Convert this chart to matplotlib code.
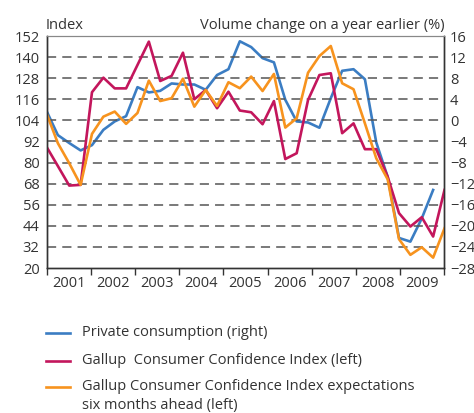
import numpy as np
import matplotlib
matplotlib.use('Agg')
import matplotlib.pyplot as plt
from matplotlib.lines import Line2D

# quarterly data 2001Q1 - 2009Q4
years = ['2001', '2002', '2003', '2004', '2005', '2006', '2007', '2008', '2009']

# private consumption, volume change on a year earlier (%), right axis
private_consumption = [1.8, -2.8, -4.3, -5.7, -4.7, -1.8, -0.2, 0.8,
                       6.3, 5.3, 5.6, 7.0, 6.8, 6.8, 5.8, 8.6,
                       9.7, 15.0, 13.9, 11.8, 11.0, 3.9, -0.2, -0.4,
                       -1.4, 4.2, 9.4, 9.7, 7.8, -4.2, -10.7, -22.3,
                       -23.0, -18.6, -13.2]

# Gallup consumer confidence index, left axis
gallup_cci = [89.0, 78.0, 66.9, 67.3, 120.0, 128.3, 122.2, 122.2,
              135.5, 148.8, 126.4, 129.3, 142.5, 116.0, 121.3, 110.9,
              120.3, 109.6, 108.6, 101.8, 115.0, 82.0, 85.3, 115.6,
              129.8, 130.8, 96.7, 102.3, 87.6, 87.6, 72.0, 51.2,
              43.6, 48.9, 37.9, 64.4]

# Gallup expectations six months ahead, left axis
gallup_expect = [108.0, 91.0, 79.6, 67.3, 96.3, 106.1, 109.0, 102.0,
                 108.2, 126.6, 115.0, 116.6, 127.7, 111.8, 121.3, 112.2,
                 125.7, 122.3, 128.9, 120.7, 130.4, 99.9, 105.2, 131.1,
                 140.6, 146.3, 125.1, 121.7, 102.3, 82.4, 70.5, 36.4,
                 27.5, 31.8, 25.9, 42.6]

labels = ['Private consumption (right)',
          'Gallup  Consumer Confidence Index (left)',
          'Gallup Consumer Confidence Index expectations\nsix months ahead (left)']

left_ticks = list(range(20, 153, 12))
right_ticks = list(range(-28, 17, 4))

blue = '#3b7dc3'
red = '#c3165c'
orange = '#f7931e'
txt = '#333333'

plt.rcParams['font.family'] = ['Open Sans', 'DejaVu Sans']
plt.rcParams['font.size'] = 10.5

W, H = 474, 413
fig = plt.figure(figsize=(W / 100, H / 100), dpi=100)
ax = fig.add_axes([46.5 / W, 1 - 268 / H, 398 / W, 232 / H])
ax2 = ax.twinx()
ax.set_zorder(ax2.get_zorder() + 1)
ax.patch.set_visible(False)

n_q = len(gallup_cci)
x = np.arange(n_q)
x_pc = np.arange(len(private_consumption))

l1, = ax2.plot(x_pc, private_consumption, color=blue, lw=1.9)
l2, = ax.plot(x, gallup_cci, color=red, lw=1.9)
l3, = ax.plot(x, gallup_expect, color=orange, lw=1.9)

ax.set_xlim(0, n_q - 1)
ax.set_ylim(20, 152)
ax2.set_ylim(-28, 16)
ax.set_yticks(left_ticks)
ax2.set_yticks(right_ticks)

# dashed grid lines
for v in left_ticks[1:-1]:
    ax.axhline(v, color='#555555', lw=1.1, ls=(0, (6, 4)), zorder=0)

# year boundaries and labels
step = (n_q - 1) / len(years)
bounds = np.arange(len(years) + 1) * step
ax.set_xticks(bounds)
ax.set_xticklabels([])
ax.set_xticks(bounds[:-1] + step / 2, minor=True)
ax.set_xticklabels(years, minor=True)
ax.tick_params(axis='x', which='major', length=5, width=1, color=txt, direction='out')
ax.tick_params(axis='x', which='minor', length=0, pad=6, labelcolor=txt, labelsize=10.5)
ax.tick_params(axis='y', length=0, pad=5, labelcolor=txt, labelsize=10.5)
ax2.tick_params(axis='y', length=0, pad=4, labelcolor=txt, labelsize=10.5)

for a in (ax, ax2):
    for s in ('left', 'right', 'bottom'):
        a.spines[s].set_color(txt)
        a.spines[s].set_linewidth(1.0)
    a.spines['top'].set_color('#888888')
    a.spines['top'].set_linewidth(0.8)

fig.text(46 / W, 1 - 29 / H, 'Index', color=txt, fontsize=10.5, ha='left', va='baseline')
fig.text(445 / W, 1 - 29 / H, 'Volume change on a year earlier (%)', color=txt,
         fontsize=10.5, ha='right', va='baseline')

# legend drawn by hand below the chart
leg_y = [333, 361, 387]
for line, lab, yy in zip([l1, l2, l3], labels, leg_y):
    fig.add_artist(Line2D([46 / W, 70 / W], [1 - yy / H, 1 - yy / H],
                          color=line.get_color(), lw=1.9, transform=fig.transFigure))
    fig.text(82 / W, 1 - (yy - 7.5) / H, lab, color=txt, fontsize=10.5,
             ha='left', va='top', linespacing=1.36)

fig.savefig('out.png', dpi=100)
